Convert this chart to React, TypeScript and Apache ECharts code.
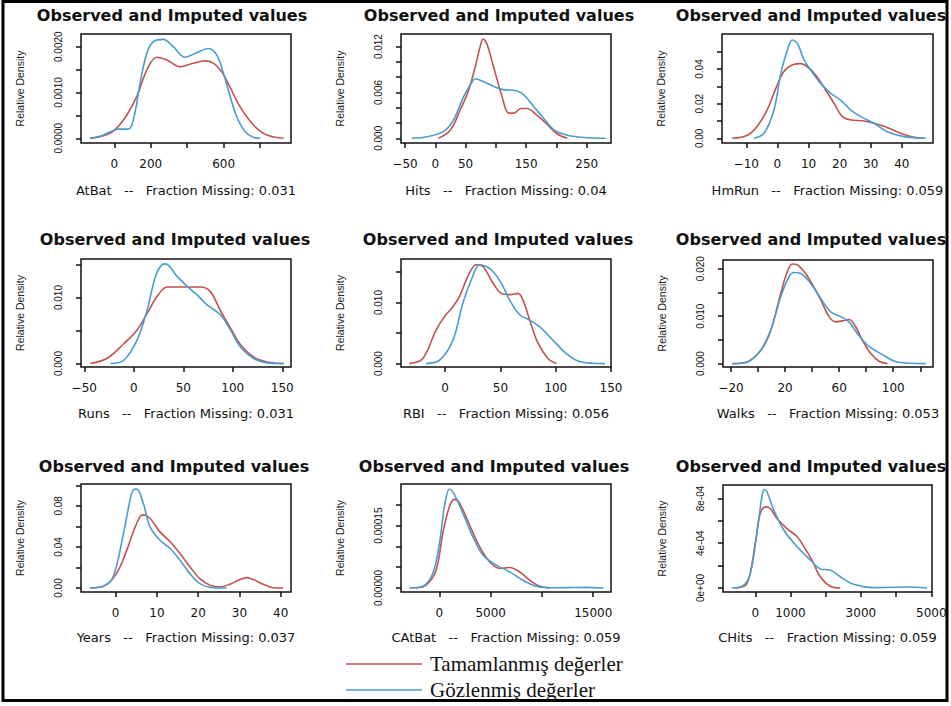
import React, { useEffect, useRef } from "react";
import * as echarts from "echarts";

// ---------- data ----------
const VARIABLES = ["AtBat", "Hits", "HmRun", "Runs", "RBI", "Walks", "Years", "CAtBat", "CHits"];
const FRACTION_MISSING = ["0.031", "0.04", "0.059", "0.031", "0.056", "0.053", "0.037", "0.059", "0.059"];
const TITLE = "Observed and Imputed values";
const Y_NAME = "Relative Density";
const LEGEND_IMPUTED = "Tamamlanmış değerler";
const LEGEND_OBSERVED = "Gözlenmiş değerler";

// imputed (red) and observed (blue) density curves: [x, density]
const atBatImputed = [[-134,0],[-24,0.00011],[50,0.0004],[123,0.00091],[178,0.00149],[233,0.00177],[288,0.00171],[361,0.00156],[434,0.00164],[498,0.00169],[544,0.00164],[590,0.00145],[636,0.00111],[690,0.00069],[764,0.00029],[837,0.00007],[929,0]];
const atBatObserved = [[-134,0],[-79,0.00004],[-6,0.00017],[30,0.0002],[77,0.0002],[97,0.0003],[120,0.0007],[141,0.0012],[178,0.00185],[214,0.00211],[269,0.00216],[324,0.002],[388,0.00177],[452,0.00187],[516,0.00196],[562,0.00182],[599,0.00142],[636,0.00091],[672,0.00047],[718,0.000145],[764,0.00002],[800,0]];

const hitsImputed = [[5,0],[25,0.0011],[41,0.0037],[55,0.0063],[66,0.0094],[74,0.012],[79,0.013],[85,0.0124],[96,0.0094],[110,0.0055],[121,0.0033],[130,0.0033],[141,0.0039],[151,0.0039],[168,0.003],[185,0.0018],[201,0.0006],[218,0]];
const hitsObserved = [[-39,0],[-14,0.0002],[14,0.0009],[30,0.0024],[47,0.0055],[61,0.0074],[66,0.0078],[80,0.0074],[96,0.0068],[110,0.0064],[135,0.0062],[146,0.0057],[162,0.0042],[179,0.0026],[196,0.0011],[218,0.0004],[245,0.0001],[281,0]];

const hmRunImputed = [[-14.5,0],[-9.6,0.0018],[-6.4,0.0071],[-3.2,0.0167],[-0.5,0.0288],[2.1,0.0385],[5.4,0.0427],[7.5,0.0431],[9.6,0.0413],[12.3,0.0365],[15.5,0.0279],[18.2,0.0202],[20.9,0.0125],[23.6,0.0106],[27.3,0.0101],[31,0.0087],[35.3,0.0063],[39.6,0.0029],[43.9,0.0006],[47.1,0]];
const hmRunObserved = [[-7.5,0],[-4.3,0.0029],[-1.1,0.0163],[1.1,0.0375],[3.2,0.051],[4.8,0.0567],[6.4,0.0548],[8.6,0.0452],[10.7,0.0394],[13.9,0.0317],[17.1,0.026],[20.3,0.0221],[23.6,0.0163],[26.8,0.0125],[31,0.0087],[35.3,0.0038],[40.7,0.001],[47.6,0]];

const runsImputed = [[-43.8,0],[-26.9,0.0008],[-10.1,0.003],[3.4,0.0051],[13.5,0.0076],[23.6,0.0102],[33.7,0.0116],[50.5,0.0116],[67.3,0.0116],[77.4,0.0109],[87.5,0.008],[97.6,0.0054],[107.7,0.0029],[121,0.001],[134.7,0.00025],[151.5,0]];
const runsObserved = [[-23.6,0],[-10.1,0.0005],[3.4,0.0036],[13.5,0.0081],[21.9,0.0132],[28.6,0.015],[32,0.0151],[43.8,0.0132],[53.9,0.0117],[64,0.0104],[74,0.0089],[87.5,0.0074],[97.6,0.0051],[107.7,0.0025],[121,0.00076],[134.7,0.0001],[151.5,0]];

const rbiImputed = [[-32.4,0],[-20.3,0.0008],[-8.2,0.0055],[-0.6,0.0077],[7,0.0093],[13,0.011],[20.6,0.0143],[28.1,0.0162],[34.2,0.0159],[43.3,0.0132],[50.8,0.0115],[58.4,0.0113],[65.9,0.0115],[70.5,0.0104],[76.5,0.0071],[84.1,0.0033],[93.2,0.0008],[100.7,0]];
const rbiObserved = [[-17.2,0],[-5.1,0.00055],[7,0.0038],[16,0.0099],[23.6,0.0137],[31.2,0.0162],[37.2,0.0159],[43.3,0.0151],[50.8,0.0132],[58.4,0.0104],[67.5,0.008],[76.5,0.0071],[85.6,0.006],[97.7,0.0038],[109.8,0.0016],[121.9,0.0003],[144.6,0]];

const walksImputed = [[-19,0],[-7.9,0.00035],[2,0.0028],[9.4,0.007],[16.8,0.0148],[21.7,0.0194],[25.4,0.021],[29.1,0.0208],[34,0.0194],[39,0.0173],[46.4,0.0134],[52.5,0.0099],[57.5,0.0088],[62.4,0.009],[67.3,0.0093],[72.3,0.0077],[77.2,0.0049],[83.4,0.0021],[89.5,0.0005],[95.7,0]];
const walksObserved = [[-19,0],[-7.9,0.00035],[2,0.0028],[9.4,0.007],[16.8,0.0141],[22.9,0.0183],[26.6,0.0192],[31.6,0.019],[39,0.0169],[46.4,0.0137],[53.8,0.0109],[61.2,0.0099],[67.3,0.0088],[73.5,0.0063],[80.9,0.0039],[90.7,0.0021],[103,0.00035],[124,0]];

const yearsImputed = [[-6.2,0],[-3,0.0016],[0.2,0.014],[2.7,0.0369],[4.3,0.0549],[5.9,0.0696],[6.7,0.0712],[8.3,0.0679],[10.7,0.0549],[13.2,0.0451],[15.6,0.0336],[18,0.0206],[20.4,0.0091],[22.9,0.0026],[25.3,0.001],[27.7,0.0036],[30.1,0.0082],[31.8,0.0101],[33.4,0.0082],[35.8,0.0036],[38.2,0.0003],[40.6,0]];
const yearsObserved = [[-6.2,0],[-3,0.0016],[-0.6,0.0108],[1.9,0.0532],[3.5,0.0859],[4.3,0.0957],[5.1,0.0963],[6.7,0.0826],[8.3,0.0598],[10.7,0.0467],[13.2,0.0385],[15.6,0.0271],[18,0.014],[20.4,0.0042],[23.7,0.0003],[26.9,0]];

const cAtBatImputed = [[-2283,0],[-1305,0.0000065],[-326,0.0000427],[326,0.000131],[978,0.000196],[1468,0.000213],[1957,0.000204],[2935,0.000152],[3914,0.0000992],[4892,0.0000629],[5871,0.0000468],[6850,0.0000492],[7828,0.0000387],[8806,0.0000185],[9785,0.000004],[10763,0]];
const cAtBatObserved = [[-2935,0],[-1631,0.000004],[-652,0.0000347],[0,0.000107],[489,0.000196],[978,0.000238],[1468,0.000224],[2283,0.00018],[3262,0.000123],[4240,0.000079],[5545,0.000055],[6850,0.0000387],[8154,0.0000185],[9459,0.000004],[11090,0.0000005],[13046,0.000001],[14350,0.0000015],[15982,0]];

const cHitsImputed = [[-568,0],[-237,0.000039],[0,0.0004],[142,0.00067],[284,0.000725],[426,0.00071],[616,0.00062],[900,0.00053],[1184,0.00046],[1420,0.00035],[1610,0.00025],[1847,0.0001],[2131,0.000015],[2415,0]];
const cHitsObserved = [[-663,0],[-331,0.000024],[-142,0.00013],[47,0.00049],[189,0.00082],[256,0.00088],[331,0.00086],[521,0.0007],[805,0.00052],[1184,0.00037],[1562,0.00025],[1847,0.00017],[2131,0.00016],[2415,0.0001],[2794,0.000033],[3362,0.000003],[4309,0.000009],[4877,0]];

const IMPUTED = [atBatImputed, hitsImputed, hmRunImputed, runsImputed, rbiImputed, walksImputed, yearsImputed, cAtBatImputed, cHitsImputed];
const OBSERVED = [atBatObserved, hitsObserved, hmRunObserved, runsObserved, rbiObserved, walksObserved, yearsObserved, cAtBatObserved, cHitsObserved];

// axis ranges, ticks and labels
const X_RANGES = [[-183, 970], [-56.6, 290], [-17.8, 50], [-53.3, 158.8], [-39.9, 150], [-25.9, 129.4], [-8.4, 42.5], [-3748, 16732], [-917, 5020]];
const Y_RANGES = [[-0.000103, 0.002277], [-0.000615, 0.01365], [-0.0027, 0.0602], [-0.00052, 0.01584], [-0.00056, 0.01714], [-0.00072, 0.02183], [-0.0039, 0.1013], [-0.0000097, 0.00025], [-0.0000358, 0.00092]];
const X_TICKS = [[0, 200, 400, 600, 800], [-50, 0, 50, 100, 150, 200, 250], [-10, 0, 10, 20, 30, 40], [-50, 0, 50, 100, 150], [0, 50, 100, 150], [-20, 0, 20, 40, 60, 80, 100, 120], [0, 10, 20, 30, 40], [0, 5000, 10000, 15000], [0, 1000, 2000, 3000, 4000, 5000]];
const X_LABELS = [[0, 200, 600], [-50, 0, 50, 150, 250], [-10, 0, 10, 20, 30, 40], [-50, 0, 50, 100, 150], [0, 50, 100, 150], [-20, 20, 60, 100], [0, 10, 20, 30, 40], [0, 5000, 15000], [0, 1000, 3000, 5000]];
const Y_TICKS = [[0, 0.0005, 0.001, 0.0015, 0.002], [0, 0.002, 0.004, 0.006, 0.008, 0.01, 0.012], [0, 0.01, 0.02, 0.03, 0.04, 0.05], [0, 0.005, 0.01, 0.015], [0, 0.005, 0.01, 0.015], [0, 0.005, 0.01, 0.015, 0.02], [0, 0.02, 0.04, 0.06, 0.08, 0.1], [0, 0.00005, 0.0001, 0.00015, 0.0002], [0, 0.0002, 0.0004, 0.0006, 0.0008]];
const Y_LABELS = [[0, 0.001, 0.002], [0, 0.006, 0.012], [0, 0.02, 0.04], [0, 0.01], [0, 0.01], [0, 0.01, 0.02], [0, 0.04, 0.08], [0, 0.00015], [0, 0.0004, 0.0008]];
const Y_LABEL_DIGITS = [4, 3, 2, 3, 3, 3, 2, 5, -1];

// ---------- layout ----------
const GRID_BOXES = [
  [81, 34, 210, 109], [401, 34, 210, 109], [722, 34, 211, 109],
  [81, 259, 210, 108], [401, 259, 210, 108], [723, 260, 210, 107],
  [81, 484, 210, 108], [401, 484, 210, 108], [723, 485, 209, 107],
];
const TITLE_POS = [[172, 15], [499, 15], [811, 15], [175, 239], [498, 239], [811, 239], [174, 466], [494, 466], [811, 466]];
const X_NAME_GAPS = [41, 41, 41, 39.5, 39.5, 39.5, 38.5, 38.5, 38.5];

const RED = "#c4514e";
const BLUE = "#4a9ccf";

function fmtX(v: number) {
  return v < 0 ? "\u2212" + Math.abs(v) : String(v);
}
function fmtY(v: number, d: number) {
  if (d < 0) {
    if (v === 0) return "0e+00";
    const e = Math.floor(Math.log10(Math.abs(v)) + 1e-9);
    const m = Math.round(v / Math.pow(10, e));
    return `${m}e-${String(-e).padStart(2, "0")}`;
  }
  return v.toFixed(d);
}

function buildOption() {
  const grid: any[] = [];
  const xAxis: any[] = [];
  const yAxis: any[] = [];
  const series: any[] = [];
  const graphic: any[] = [];

  VARIABLES.forEach((name, i) => {
    const [l, t, w, h] = GRID_BOXES[i];
    grid.push({ left: l, top: t, width: w, height: h, show: true, borderColor: "#111", borderWidth: 1.5, backgroundColor: "transparent", containLabel: false });
    xAxis.push({
      type: "value", gridIndex: i, min: X_RANGES[i][0], max: X_RANGES[i][1], position: "bottom",
      name: `${name}   --   Fraction Missing: ${FRACTION_MISSING[i]}`,
      nameLocation: "middle", nameGap: X_NAME_GAPS[i],
      nameTextStyle: { fontFamily: "DejaVu Sans", fontSize: 13, color: "#111" },
      axisLine: { show: false, onZero: false },
      axisTick: { show: true, length: 5, customValues: X_TICKS[i], lineStyle: { color: "#111", width: 1.5 } },
      axisLabel: { customValues: X_LABELS[i], formatter: (v: number) => fmtX(v), fontFamily: "DejaVu Sans", fontSize: 12, color: "#111", margin: 14.5 },
      splitLine: { show: false },
    });
    const d = Y_LABEL_DIGITS[i];
    yAxis.push({
      type: "value", gridIndex: i, min: Y_RANGES[i][0], max: Y_RANGES[i][1], position: "left",
      name: Y_NAME, nameLocation: "middle", nameGap: 55.5,
      nameTextStyle: { fontFamily: "Liberation Sans", fontSize: 10.5, color: "#222" },
      axisLine: { show: false, onZero: false },
      axisTick: { show: true, length: 5, customValues: Y_TICKS[i], lineStyle: { color: "#111", width: 1.5 } },
      axisLabel: { customValues: Y_LABELS[i], formatter: (v: number) => fmtY(v, d), rotate: 90, fontFamily: "Liberation Sans", fontSize: 10, color: "#111", margin: 18 },
      splitLine: { show: false },
    });
    series.push({
      type: "line", xAxisIndex: i, yAxisIndex: i, data: IMPUTED[i], showSymbol: false, smooth: 0.35, silent: true,
      lineStyle: { color: RED, width: 1.6 }, itemStyle: { color: RED },
    });
    series.push({
      type: "line", xAxisIndex: i, yAxisIndex: i, data: OBSERVED[i], showSymbol: false, smooth: 0.35, silent: true,
      lineStyle: { color: BLUE, width: 1.6 }, itemStyle: { color: BLUE },
    });
    graphic.push({
      type: "text", x: TITLE_POS[i][0], y: TITLE_POS[i][1],
      style: { text: TITLE, font: "bold 16px 'DejaVu Sans'", fill: "#111", align: "center", verticalAlign: "middle", textAlign: "center", textVerticalAlign: "middle" },
    });
  });

  // outer frame
  graphic.push({ type: "rect", shape: { x: 3, y: 1.5, width: 944, height: 699 }, style: { fill: "none", stroke: "#000", lineWidth: 3 } });
  // legend
  graphic.push({ type: "line", shape: { x1: 346, y1: 664, x2: 422, y2: 664 }, style: { stroke: RED, lineWidth: 1.5 } });
  graphic.push({ type: "line", shape: { x1: 346, y1: 690, x2: 422, y2: 690 }, style: { stroke: BLUE, lineWidth: 1.5 } });
  graphic.push({ type: "text", x: 430, y: 664, style: { text: LEGEND_IMPUTED, font: "21px 'Liberation Serif'", fill: "#111", verticalAlign: "middle", textVerticalAlign: "middle" } });
  graphic.push({ type: "text", x: 430, y: 690, style: { text: LEGEND_OBSERVED, font: "21px 'Liberation Serif'", fill: "#111", verticalAlign: "middle", textVerticalAlign: "middle" } });

  return { animation: false, backgroundColor: "#fff", grid, xAxis, yAxis, series, graphic };
}

export default function App() {
  const ref = useRef<HTMLDivElement>(null);
  useEffect(() => {
    if (!ref.current) return;
    const chart = echarts.init(ref.current, undefined, { renderer: "svg" });
    chart.setOption(buildOption() as any);
    return () => chart.dispose();
  }, []);
  return <div ref={ref} style={{ position: "absolute", left: 0, top: 0, width: 951, height: 706, background: "#fff" }} />;
}
